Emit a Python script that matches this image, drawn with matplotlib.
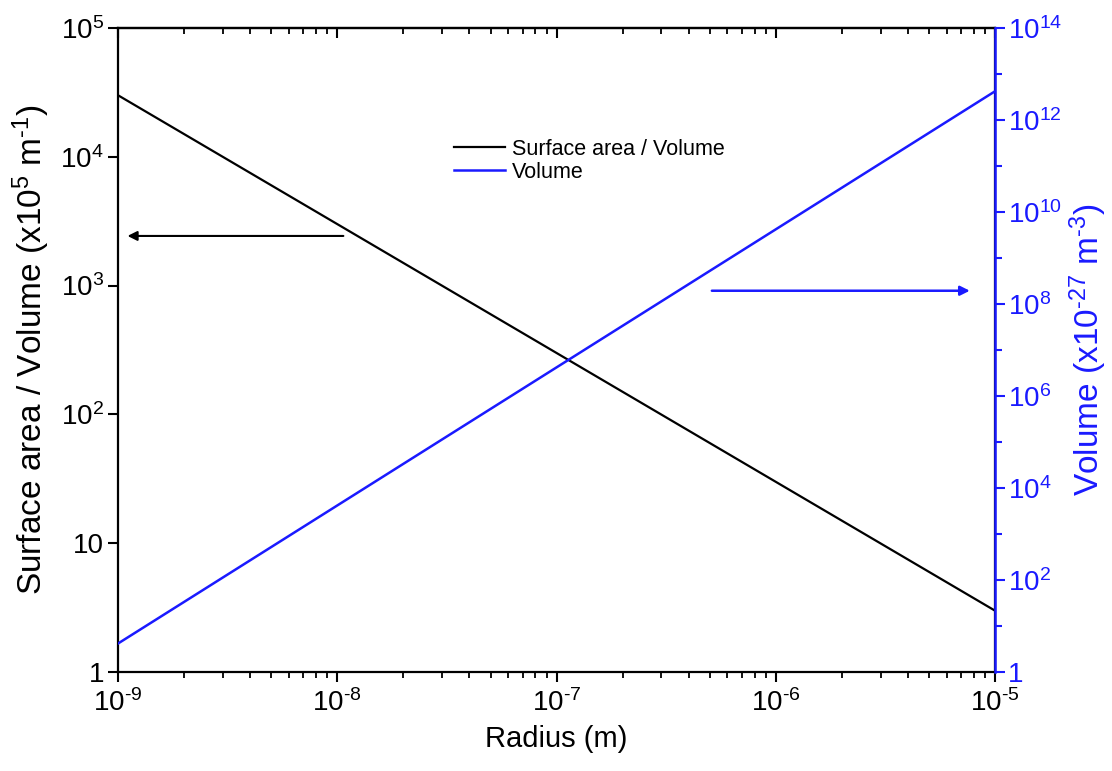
import math
import matplotlib
matplotlib.use("Agg")
import matplotlib.pyplot as plt
from matplotlib.ticker import FixedLocator, FuncFormatter, NullFormatter

plt.rcParams['font.family'] = ['Liberation Sans', 'DejaVu Sans']
plt.rcParams['mathtext.fontset'] = 'custom'
plt.rcParams['mathtext.rm'] = 'Liberation Sans'
plt.rcParams['mathtext.it'] = 'Liberation Sans'

# data (straight lines on log-log axes)
radius = [1e-9, 1e-5]
sa_over_v = [3.0e4, 3.0]        # x1e5 m^-1
volume = [4.2, 4.2e12]          # x1e-27 m^3

x_major = [1e-9, 1e-8, 1e-7, 1e-6, 1e-5]
x_minor = [m * 10.0 ** k for k in range(-9, -5) for m in range(2, 10)]
left_major = [1, 10, 1e2, 1e3, 1e4, 1e5]
right_major = [10.0 ** k for k in range(0, 15, 2)]
right_minor = [10.0 ** k for k in range(1, 14, 2)]

BLUE = '#1a1aff'


def sup(e):
    s = str(e).replace('-', r'\text{-}')
    return r'$\mathregular{10^{%s}}$' % s


def left_fmt(v, pos):
    if v == 1:
        return '1'
    if v == 10:
        return '10'
    return sup(int(round(math.log10(v))))


def pow_fmt(v, pos):
    if v == 1:
        return '1'
    return sup(int(round(math.log10(v))))


fig = plt.figure(figsize=(11.12, 7.71), dpi=100)
ax = fig.add_axes([0.106, 0.128, 0.789, 0.836])
ax2 = ax.twinx()

l1, = ax.plot(radius, sa_over_v, color='black', lw=1.6, label='Surface area / Volume')
l2, = ax2.plot(radius, volume, color=BLUE, lw=1.8, label='Volume')

ax.set_xscale('log')
ax.set_yscale('log')
ax2.set_yscale('log')
ax.set_xlim(1e-9, 1e-5)
ax.set_ylim(1, 1e5)
ax2.set_ylim(1, 1e14)

ax.xaxis.set_major_locator(FixedLocator(x_major))
ax.xaxis.set_minor_locator(FixedLocator(x_minor))
ax.xaxis.set_major_formatter(FuncFormatter(pow_fmt))
ax.xaxis.set_minor_formatter(NullFormatter())

ax.yaxis.set_major_locator(FixedLocator(left_major))
ax.yaxis.set_minor_locator(FixedLocator([]))
ax.yaxis.set_major_formatter(FuncFormatter(left_fmt))
ax.yaxis.set_minor_formatter(NullFormatter())

ax2.yaxis.set_major_locator(FixedLocator(right_major))
ax2.yaxis.set_minor_locator(FixedLocator(right_minor))
ax2.yaxis.set_major_formatter(FuncFormatter(pow_fmt))
ax2.yaxis.set_minor_formatter(NullFormatter())

for s in ax.spines.values():
    s.set_linewidth(1.6)
ax2.spines['right'].set_color(BLUE)
ax2.spines['right'].set_linewidth(1.8)
for s in ['left', 'top', 'bottom']:
    ax2.spines[s].set_visible(False)

ax.tick_params(axis='x', which='major', direction='out', length=7, width=1.5,
               labelsize=20, pad=5)
ax.tick_params(axis='x', which='minor', direction='out', length=4, width=1.3)
ax.tick_params(axis='y', which='major', direction='out', length=7, width=1.5,
               labelsize=20, pad=3, right=False)
ax2.tick_params(axis='y', which='major', direction='out', length=7, width=1.5,
                labelsize=20, colors=BLUE, pad=2)
ax2.tick_params(axis='y', which='minor', direction='out', length=5, width=1.5, colors=BLUE)

# top axis: inward ticks, no labels
top = ax.secondary_xaxis('top')
top.xaxis.set_major_locator(FixedLocator(x_major))
top.xaxis.set_minor_locator(FixedLocator(x_minor))
top.xaxis.set_major_formatter(NullFormatter())
top.xaxis.set_minor_formatter(NullFormatter())
top.tick_params(which='major', direction='in', length=7, width=1.5)
top.tick_params(which='minor', direction='in', length=4, width=1.3)
top.spines['top'].set_linewidth(1.6)

ax.set_xlabel('Radius (m)', fontsize=21, labelpad=6)
ax.set_ylabel(r'Surface area / Volume (x$\mathregular{10^{5}}$ m$\mathregular{^{\text{-}1}}$)',
              fontsize=24, labelpad=6)
ax2.set_ylabel(r'Volume (x$\mathregular{10^{\text{-}27}}$ m$\mathregular{^{\text{-}3}}$)',
               fontsize=24, color=BLUE, labelpad=4)

ax.legend(handles=[l1, l2], loc='upper left', bbox_to_anchor=(0.373, 0.841),
          frameon=False, fontsize=15.5, handlelength=2.4, handletextpad=0.3,
          labelspacing=0.1, borderaxespad=0)

ax.annotate('', xy=(0.011, 0.677), xytext=(0.257, 0.677), xycoords='axes fraction',
            arrowprops=dict(arrowstyle='-|>', color='black', lw=1.5,
                            mutation_scale=14, shrinkA=0, shrinkB=0))
ax.annotate('', xy=(0.971, 0.592), xytext=(0.677, 0.592), xycoords='axes fraction',
            arrowprops=dict(arrowstyle='-|>', color=BLUE, lw=1.8,
                            mutation_scale=14, shrinkA=0, shrinkB=0))

fig.savefig('out.png', dpi=100)
